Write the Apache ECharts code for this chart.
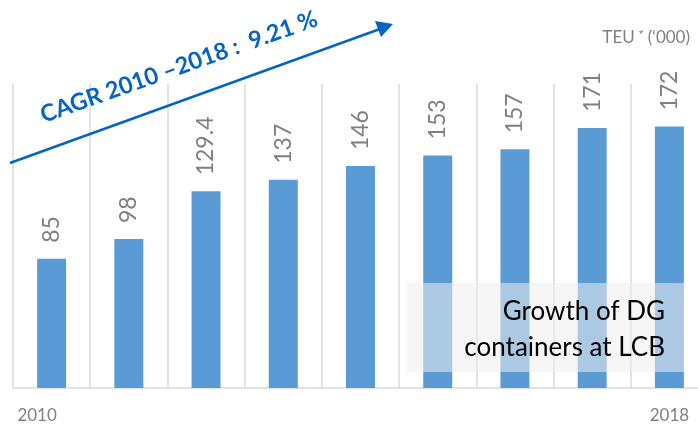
<!DOCTYPE html>
<html><head><meta charset="utf-8">
<script src="https://cdn.jsdelivr.net/npm/echarts@6/dist/echarts.min.js"></script>
<style>html,body{margin:0;padding:0;background:#fff}#c{width:698px;height:427px}</style>
</head><body><div id="c"></div>
<script>
const categories = ['2010','2011','2012','2013','2014','2015','2016','2017','2018'];
const teuValues = [85, 98, 129.4, 137, 146, 153, 157, 171, 172];
const shownTickLabels = ['2010','2018'];
const unitLabel = "TEU ";
const cagrText = 'CAGR 2010 \u20132018 :  9.21 %';
const noteLines = ['Growth of DG', 'containers at LCB'];

const FONT = 'Lato, "Open Sans", sans-serif';
const chart = echarts.init(document.getElementById('c'), null, {renderer:'canvas'});
chart.setOption({
  animation: false,
  grid: {left: 13, top: 84, width: 695, height: 304, outerBoundsMode: 'none', containLabel: false},
  xAxis: {
    type: 'category', data: categories, boundaryGap: true,
    axisLine: {lineStyle: {color: '#d9d9d9', width: 1.5}},
    axisTick: {show: false},
    splitLine: {show: true, lineStyle: {color: '#d9d9d9', width: 1.5}},
    axisLabel: {
      interval: 0, margin: 19, color: '#7f7f7f', fontSize: 17, fontFamily: FONT,
      formatter: function (v, i) {
        if (v === shownTickLabels[0]) return '{first|' + v + '}';
        if (v === shownTickLabels[1]) return v;
        return '';
      },
      rich: {first: {color: '#7f7f7f', fontSize: 17, fontFamily: FONT, padding: [0, 29, 0, 0]}}
    }
  },
  yAxis: {type: 'value', min: 0, max: 200, show: false, splitLine: {show: false}},
  series: [{
    type: 'bar', data: teuValues, barWidth: 29,
    itemStyle: {color: '#5b9bd5'},
    label: {
      show: true, position: 'top', rotate: 90, align: 'left', verticalAlign: 'middle',
      distance: 16, color: '#7f7f7f', fontSize: 23, fontFamily: FONT
    }
  }],
  graphic: [
    {type: 'rect', left: 407, top: 283, shape: {width: 277, height: 89},
     style: {fill: 'rgba(238,238,238,0.55)'}, z: 100},
    {type: 'text', x: 665, y: 312, z: 101,
     style: {text: noteLines[0], fill: '#000', font: '26px ' + FONT, align: 'right', verticalAlign: 'middle'}},
    {type: 'text', x: 665, y: 348, z: 101,
     style: {text: noteLines[1], fill: '#000', font: '26px ' + FONT, align: 'right', verticalAlign: 'middle'}},
    {type: 'text', x: 690, y: 38, z: 101,
     style: {text: unitLabel + '{s|*} (\u2018000)', fill: '#7f7f7f', font: '17px ' + FONT, align: 'right', verticalAlign: 'middle',
       rich: {s: {fontSize: 11, verticalAlign: 'top', padding: [0, 0, 7, 0], fill: '#7f7f7f'}}}},
    {type: 'line', z: 101, shape: {x1: 10, y1: 163, x2: 380, y2: 29},
     style: {stroke: '#0563c1', lineWidth: 2.5}},
    {type: 'polygon', z: 101, shape: {points: [[393, 24], [375, 21], [381, 37]]},
     style: {fill: '#0563c1'}},
    {type: 'text', x: 179, y: 67, rotation: 19.5 * Math.PI / 180, z: 101,
     style: {text: cagrText, fill: '#0563c1', font: 'bold 23.5px ' + FONT, align: 'center', verticalAlign: 'middle'}}
  ]
});
</script></body></html>
